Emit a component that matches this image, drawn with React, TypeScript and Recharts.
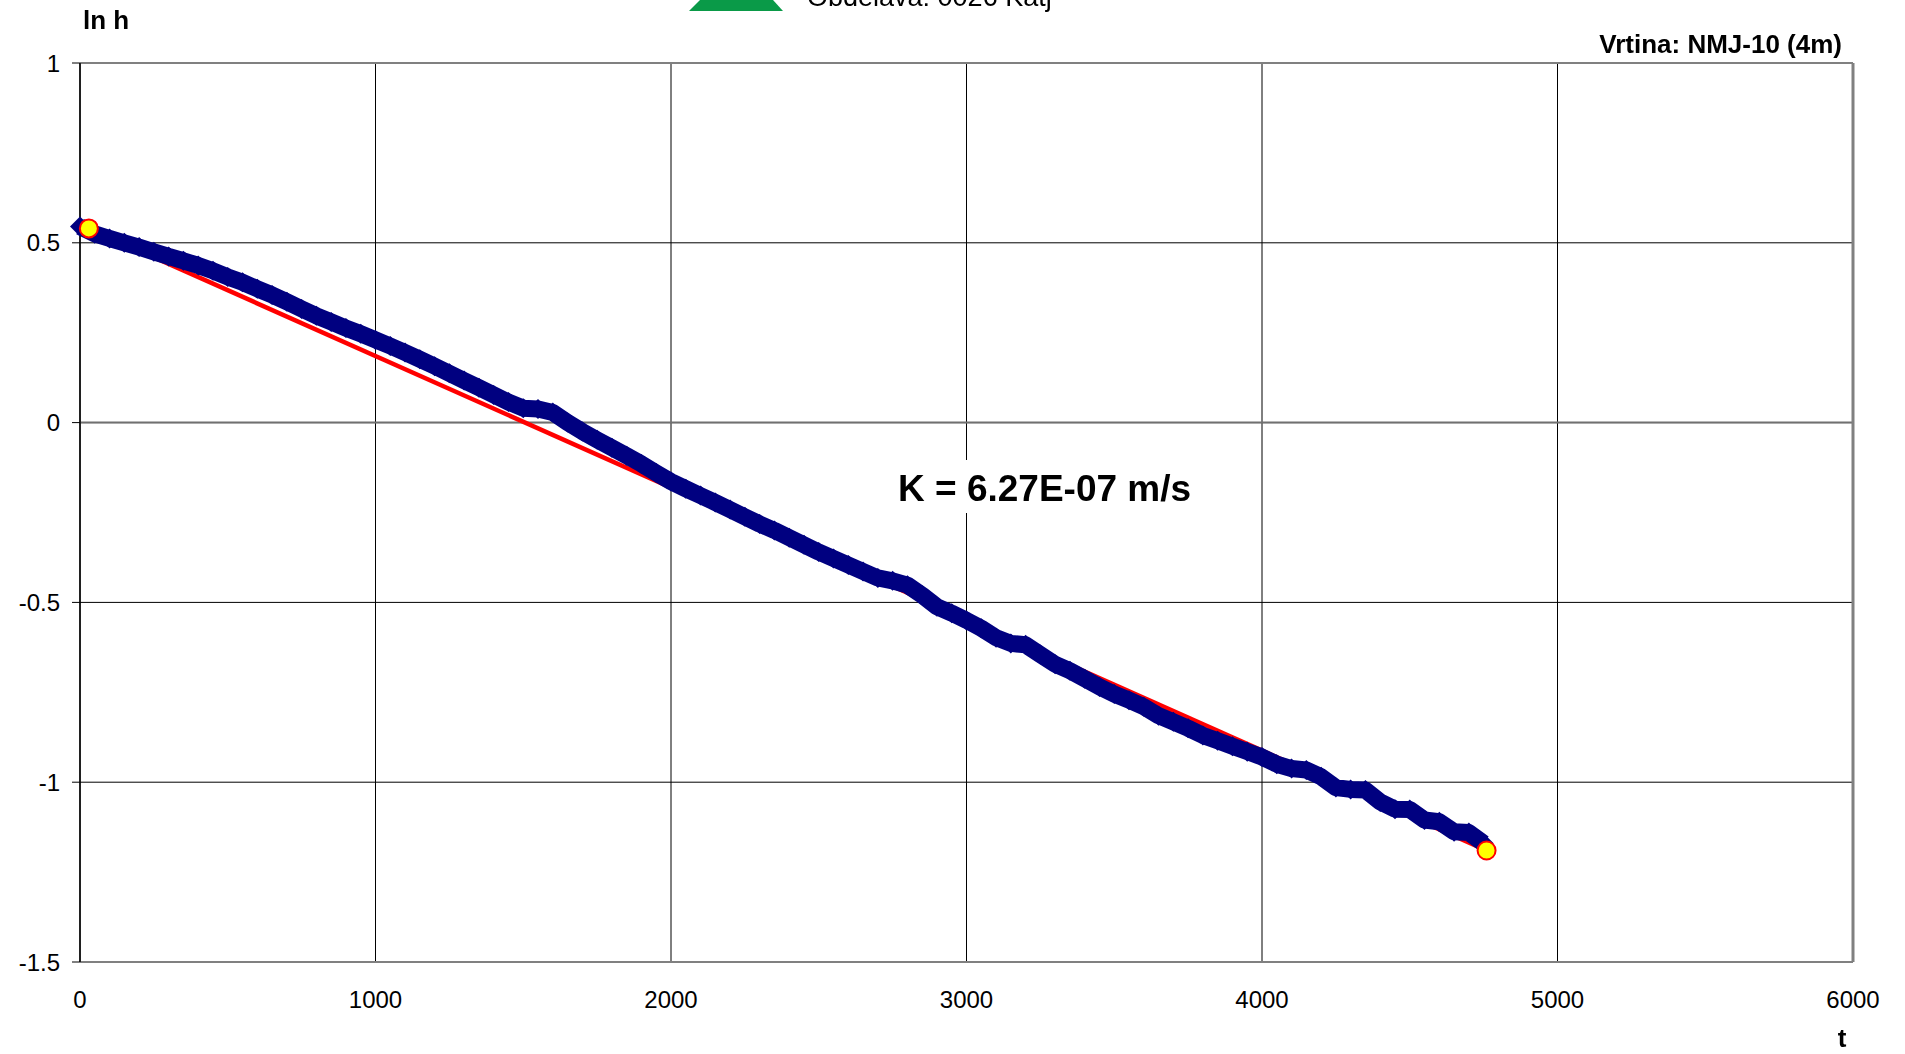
import {
  ScatterChart,
  Scatter,
  XAxis,
  YAxis,
  CartesianGrid,
  ReferenceLine,
} from "recharts";

// measured time (s) and ln h readings
const times = [
  0, 50, 100, 150, 200, 250, 300, 350, 400, 450, 500, 550, 600, 650, 700, 750,
  800, 850, 900, 950, 1000, 1050, 1100, 1150, 1200, 1250, 1300, 1350, 1400,
  1450, 1500, 1550, 1600, 1650, 1700, 1750, 1800, 1850, 1900, 1950, 2000,
  2050, 2100, 2150, 2200, 2250, 2300, 2350, 2400, 2450, 2500, 2550, 2600,
  2650, 2700, 2750, 2800, 2850, 2900, 2950, 3000, 3050, 3100, 3150, 3200,
  3250, 3300, 3350, 3400, 3450, 3500, 3550, 3600, 3650, 3700, 3750, 3800,
  3850, 3900, 3950, 4000, 4050, 4100, 4150, 4200, 4250, 4300, 4350, 4400,
  4450, 4500, 4550, 4600, 4650, 4700, 4750,
];
const lnH = [
  0.545, 0.525, 0.512, 0.5, 0.488, 0.475, 0.462, 0.45, 0.437, 0.422, 0.405,
  0.39, 0.372, 0.355, 0.336, 0.316, 0.297, 0.28, 0.263, 0.247, 0.23, 0.213,
  0.195, 0.176, 0.157, 0.137, 0.117, 0.097, 0.077, 0.057, 0.04, 0.038, 0.028,
  0.0, -0.025, -0.048, -0.07, -0.092, -0.115, -0.14, -0.164, -0.184, -0.203,
  -0.222, -0.242, -0.262, -0.282, -0.3, -0.32, -0.34, -0.36, -0.378, -0.396,
  -0.414, -0.432, -0.44, -0.452, -0.48, -0.512, -0.53, -0.55, -0.572, -0.598,
  -0.614, -0.618, -0.645, -0.672, -0.69, -0.712, -0.735, -0.755, -0.772,
  -0.79, -0.815, -0.832, -0.85, -0.87, -0.885, -0.9, -0.915, -0.93, -0.95,
  -0.962, -0.966, -0.985, -1.015, -1.02, -1.022, -1.055, -1.075, -1.076,
  -1.105, -1.11, -1.138, -1.14, -1.17,
];

// fit end points (yellow markers) and red regression line
const fitTimes = [30, 4760];
const fitLnH = [0.54, -1.19];

const xTicks = [0, 1000, 2000, 3000, 4000, 5000, 6000];
const yTicks = [-1.5, -1, -0.5, 0, 0.5, 1];

const measured = times.map((t, i) => ({ t, lnh: lnH[i] }));
const fit = fitTimes.map((t, i) => ({ t, lnh: fitLnH[i] }));

const FONT = "'Liberation Sans', Arial, sans-serif";

const Diamond = (props: any) => {
  const { cx, cy } = props;
  const r = 10;
  return (
    <path
      d={`M${cx},${cy - r}L${cx + r},${cy}L${cx},${cy + r}L${cx - r},${cy}Z`}
      fill="#000080"
    />
  );
};

const Dot = (props: any) => (
  <circle cx={props.cx} cy={props.cy} r={9} fill="#ffff00" stroke="#ff0000" strokeWidth={2} />
);

const Nothing = () => <g />;

export default function App() {
  return (
    <div
      style={{
        position: "relative",
        width: 1900,
        height: 1046,
        marginTop: -8,
        marginLeft: -8,
        fontFamily: FONT,
      }}
    >
      <ScatterChart
        width={1900}
        height={1046}
        margin={{ top: 63, right: 47, bottom: 34, left: 8 }}
      >
        <CartesianGrid stroke="#000" strokeWidth={1} />
        <XAxis
          type="number"
          dataKey="t"
          domain={[0, 6000]}
          ticks={xTicks}
          tickLine={false}
          tickSize={0}
          tickMargin={29}
          height={50}
          axisLine={{ stroke: "#808080", strokeWidth: 2 }}
          tick={{ fill: "#000", fontSize: 24, fontFamily: FONT }}
        />
        <YAxis
          type="number"
          dataKey="lnh"
          domain={[-1.5, 1]}
          ticks={yTicks}
          width={72}
          tickSize={8}
          tickMargin={12}
          tickLine={{ stroke: "#000" }}
          axisLine={{ stroke: "#000", strokeWidth: 1.5 }}
          tick={{ fill: "#000", fontSize: 24, fontFamily: FONT }}
        />
        <ReferenceLine y={0} stroke="#707070" strokeWidth={2} />
        <ReferenceLine y={1} stroke="#808080" strokeWidth={2} />
        <ReferenceLine x={6000} stroke="#808080" strokeWidth={3} />
        <Scatter
          data={fit}
          line={{ stroke: "#ff0000", strokeWidth: 4.5 }}
          lineType="joint"
          shape={Nothing}
          isAnimationActive={false}
        />
        <Scatter
          data={measured}
          fill="#000080"
          line={{ stroke: "#000080", strokeWidth: 17, strokeLinejoin: "round" }}
          lineType="joint"
          shape={Diamond}
          isAnimationActive={false}
        />
        <Scatter data={fit} shape={Dot} isAnimationActive={false} />
      </ScatterChart>

      <svg
        width={1905}
        height={1054}
        style={{ position: "fixed", left: 0, top: 0, zIndex: 10, pointerEvents: "none" }}
      >
        <polygon points="700,0 773,0 783,11 689,11" fill="#0a9a48" />
        <text x={807} y={6} fontSize={27} fontFamily={FONT} fill="#000">
          Obdelava: 0026 Katj
        </text>
        <text x={83} y={29} fontSize={26} fontWeight="bold" fontFamily={FONT} fill="#000">
          ln h
        </text>
        <text x={1842} y={53} fontSize={26} fontWeight="bold" fontFamily={FONT} fill="#000" textAnchor="end">
          Vrtina: NMJ-10 (4m)
        </text>
        <text x={1842} y={1047} fontSize={26} fontWeight="bold" fontFamily={FONT} fill="#000" textAnchor="middle">
          t
        </text>
        <rect x={884} y={460} width={310} height={53} fill="#fff" />
        <text x={898} y={501} fontSize={37} fontWeight="bold" fontFamily={FONT} fill="#000">
          K = 6.27E-07 m/s
        </text>
      </svg>
    </div>
  );
}
